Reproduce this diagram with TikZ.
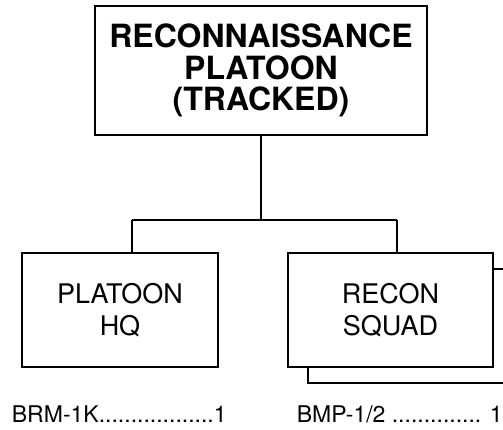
\documentclass[tikz,border=0pt]{standalone}
\usepackage{fontspec}
\setmainfont{TeX Gyre Heros}
\usetikzlibrary{positioning}

\begin{document}
\begin{tikzpicture}[x=1pt, y=-1pt, line width=1.8pt,
  unitbox/.style={draw, fill=white, minimum width=196pt, minimum height=114pt,
    align=center, inner sep=0pt, font=\fontsize{27}{32}\selectfont},
  equip/.style={anchor=base west, inner sep=0pt, font=\fontsize{23}{26}\selectfont}]
  \useasboundingbox (0,0) rectangle (503,429);
  % top box
  \node[draw, minimum width=332pt, minimum height=129pt, inner sep=0pt, align=center,
    font=\bfseries\fontsize{32}{31.5}\selectfont] (recon) at (261,70.5)
    {RECONNAISSANCE\\PLATOON\\(TRACKED)};
  % squads, the one behind first
  \node[unitbox, minimum width=205pt] (squadback) at (410.5,326) {};
  \node[unitbox] (hq) at (120,310) {PLATOON\\HQ};
  \node[unitbox, minimum width=205pt] (squad) at (390.5,310) {RECON\\SQUAD};
  % connectors
  \coordinate (busl) at (132,220);
  \coordinate (busr) at (397,220);
  \draw (recon.south) -- (recon.south |- busl);
  \draw (busl) -- (busr);
  \draw (busl) -- (busl |- hq.north);
  \draw (busr) -- (busr |- squad.north);
  % equipment
  \node[equip] (hqeq) at (11,422) {BRM-1K..................1};
  \node[equip] (squadeq) at (296,422) {BMP-1/2 .............. 1};
\end{tikzpicture}
\end{document}
